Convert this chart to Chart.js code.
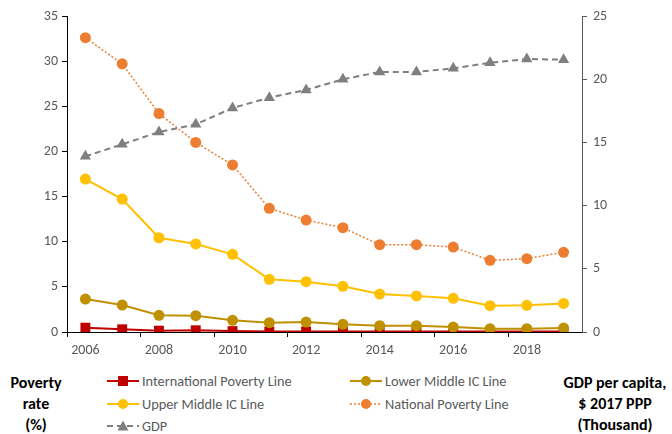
<!DOCTYPE html>
<html>
<head>
<meta charset="utf-8">
<script src="https://cdn.jsdelivr.net/npm/chart.js@4.4.0/dist/chart.umd.min.js"></script>
<style>
  body { margin: 0; background: #fff; font-family: Carlito, Lato, sans-serif; }
  #wrap { position: relative; width: 672px; height: 434px; overflow: hidden; }
  #chartBox { position: absolute; left: 0; top: 0; width: 672px; height: 362px; }
  .side { position: absolute; font-weight: bold; font-size: 16px; line-height: 21px; text-align: center; color: #000; }
  .item { position: absolute; display: flex; align-items: center; height: 16px; font-size: 14.3px; color: #595959; white-space: nowrap; }
  .item svg { margin-right: 3px; }
</style>
</head>
<body>
<div id="wrap">
  <div id="chartBox"><canvas id="lineChart"></canvas></div>
  <div class="side" style="left:-4px;top:372px;width:80px;">Poverty<br>rate<br>(%)</div>
  <div class="side" style="left:552px;top:372px;width:126px;">GDP per capita,<br>$ 2017 PPP<br>(Thousand)</div>
  <div id="legend"></div>
</div>
<script>
// values
const years = ["2006", "2007", "2008", "2009", "2010", "2011", "2012", "2013", "2014", "2015", "2016", "2017", "2018", "2019"];
const intlPoverty = [0.48, 0.30, 0.15, 0.19, 0.10, 0.06, 0.06, 0.05, 0.05, 0.05, 0.05, 0.05, 0.05, 0.05];
const lowerMiddle = [3.65, 2.99, 1.85, 1.81, 1.29, 1.03, 1.10, 0.85, 0.70, 0.70, 0.55, 0.37, 0.37, 0.44];
const upperMiddle = [16.94, 14.73, 10.44, 9.75, 8.60, 5.83, 5.57, 5.06, 4.20, 4.00, 3.73, 2.92, 2.96, 3.17];
const nationalPoverty = [32.6, 29.7, 24.2, 21.0, 18.5, 13.7, 12.4, 11.55, 9.67, 9.67, 9.41, 7.94, 8.12, 8.83];
const gdp = [13.9, 14.85, 15.82, 16.43, 17.72, 18.54, 19.15, 19.99, 20.57, 20.57, 20.86, 21.3, 21.6, 21.54];
const leftTicks = [0, 5, 10, 15, 20, 25, 30, 35];
const rightTicks = [0, 5, 10, 15, 20, 25];

const series = [
  { label: "International Poverty Line", data: intlPoverty, color: "#C00000", style: "rect", radius: 7, dash: [], width: 2, axis: "y", col: 0, row: 0 },
  { label: "Lower Middle IC Line", data: lowerMiddle, color: "#BF9000", style: "circle", radius: 5.5, dash: [], width: 2, axis: "y", col: 1, row: 0 },
  { label: "Upper Middle IC Line", data: upperMiddle, color: "#FFC000", style: "circle", radius: 5.5, dash: [], width: 2, axis: "y", col: 0, row: 1 },
  { label: "National Poverty Line", data: nationalPoverty, color: "#ED7D31", style: "circle", radius: 5.5, dash: [2, 2], width: 1.5, axis: "y", col: 1, row: 1 },
  { label: "GDP", data: gdp, color: "#7F7F7F", style: "triangle", radius: 6.5, dash: [6, 4], width: 2, axis: "y1", col: 0, row: 2 }
];

const tickFont = { family: "Carlito, Lato, sans-serif", size: 14 };

new Chart(document.getElementById("lineChart").getContext("2d"), {
  type: "line",
  data: {
    labels: years,
    datasets: series.map((s, i) => ({
      label: s.label,
      data: s.data,
      yAxisID: s.axis,
      borderColor: s.color,
      backgroundColor: s.color,
      borderWidth: s.width,
      borderDash: s.dash,
      pointStyle: s.style,
      pointRadius: s.radius,
      pointBorderWidth: 0,
      pointBackgroundColor: s.color,
      tension: 0,
      order: series.length - i
    }))
  },
  options: {
    responsive: true,
    maintainAspectRatio: false,
    animation: false,
    layout: { padding: { top: 16, left: 0, right: 0, bottom: 0 } },
    plugins: { legend: { display: false }, tooltip: { enabled: false } },
    scales: {
      x: {
        offset: true,
        grid: {
          offset: true,
          drawOnChartArea: false,
          tickLength: 5,
          color: (c) => (c.index % 2 === 0 ? "#000" : "rgba(0,0,0,0)")
        },
        border: { color: "#000", width: 1 },
        ticks: {
          autoSkip: false,
          maxRotation: 0,
          padding: 5,
          color: "#595959",
          font: tickFont,
          callback: function (v, i) { return i % 2 === 0 ? this.getLabelForValue(v) : ""; }
        },
        afterFit: (s) => { s.height = 30; }
      },
      y: {
        position: "left",
        min: leftTicks[0],
        max: leftTicks[leftTicks.length - 1],
        afterBuildTicks: (s) => { s.ticks = leftTicks.map((v) => ({ value: v })); },
        grid: { drawOnChartArea: false, tickLength: 5, color: "#000" },
        border: { color: "#000", width: 1 },
        ticks: { color: "#595959", font: tickFont, padding: 4 },
        afterFit: (s) => { s.width = 67; }
      },
      y1: {
        position: "right",
        min: rightTicks[0],
        max: rightTicks[rightTicks.length - 1],
        afterBuildTicks: (s) => { s.ticks = rightTicks.map((v) => ({ value: v })); },
        grid: { drawOnChartArea: false, tickLength: 5, color: "#595959" },
        border: { color: "#595959", width: 1 },
        ticks: { color: "#595959", font: tickFont, padding: 6 },
        afterFit: (s) => { s.width = 90; }
      }
    }
  }
});

// legend in two columns like the original
function markerSvg(s) {
  let mark = "";
  if (s.style === "rect") mark = '<rect x="11" y="1" width="10" height="10" fill="' + s.color + '"/>';
  else if (s.style === "circle") mark = '<circle cx="16" cy="6" r="5" fill="' + s.color + '"/>';
  else mark = '<polygon points="16,0.5 21.5,10.5 10.5,10.5" fill="' + s.color + '"/>';
  const dash = s.dash.length ? ' stroke-dasharray="' + s.dash.join(",") + '"' : "";
  return '<svg width="32" height="12"><line x1="0" y1="6" x2="32" y2="6" stroke="' + s.color +
    '" stroke-width="' + s.width + '"' + dash + '/>' + mark + "</svg>";
}
const colLeft = [107, 350];
const rowTop = [373, 396, 418];
const legendBox = document.getElementById("legend");
series.forEach((s) => {
  const el = document.createElement("div");
  el.className = "item";
  el.style.left = colLeft[s.col] + "px";
  el.style.top = rowTop[s.row] + "px";
  el.innerHTML = markerSvg(s) + "<span>" + s.label + "</span>";
  legendBox.appendChild(el);
});
</script>
</body>
</html>
